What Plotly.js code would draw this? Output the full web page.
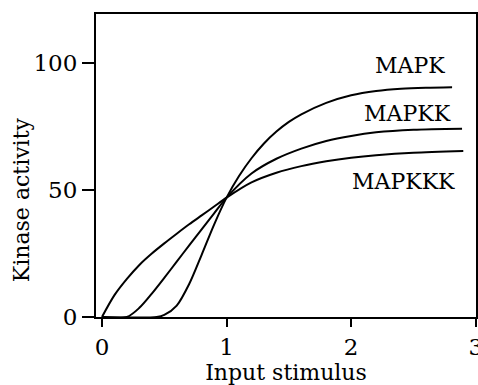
<!DOCTYPE html>
<html>
<head>
<meta charset="utf-8">
<script src="https://cdn.plot.ly/plotly-3.0.1.min.js"></script>
<style>html,body{margin:0;padding:0;background:#fff;}#chart{width:478px;height:385px;}</style>
</head>
<body>
<div id="chart"></div>
<script>
// Values
const mapkkkX = [0, 0.1, 0.2, 0.3, 0.4, 0.5, 0.6, 0.7, 0.8, 0.9, 1.0, 1.2, 1.4, 1.6, 1.8, 2.0, 2.2, 2.5, 2.9];
const mapkkkY = [0, 8.6, 15, 20.5, 25, 29, 32.8, 36.5, 40, 43.5, 47, 53, 56.8, 59.4, 61.3, 62.7, 63.7, 64.7, 65.4];

const mapkkX = [0, 0.2, 0.3, 0.4, 0.5, 0.6, 0.7, 0.8, 0.9, 1.0, 1.2, 1.4, 1.6, 1.8, 2.0, 2.2, 2.5, 2.89];
const mapkkY = [0, 0, 3.6, 9.2, 15.4, 21.8, 28.2, 34.5, 40.8, 47, 56.5, 62.3, 66.3, 69.3, 71.3, 72.7, 73.7, 74.1];

const mapkX = [0, 0.44, 0.5, 0.6, 0.7, 0.8, 0.9, 1.0, 1.1, 1.2, 1.3, 1.4, 1.5, 1.6, 1.8, 2.0, 2.2, 2.4, 2.6, 2.81];
const mapkY = [0, 0, 0.8, 4.5, 13, 24.5, 36.4, 47, 55.5, 62.5, 68.3, 73, 76.8, 79.8, 84.3, 87.3, 89, 89.9, 90.3, 90.5];

const seriesNames = ["MAPK", "MAPKK", "MAPKKK"];
const labelX = [2.47, 2.45, 2.42];
const labelY = [99, 80.3, 53.3];

const xTicks = [0, 1, 2, 3];
const yTicks = [0, 50, 100];

const serif = "DejaVu Serif, Liberation Serif, serif";
const lineStyle = {color: "#000", width: 2, shape: "spline", smoothing: 0.8};

const traces = [
  {x: mapkX, y: mapkY, name: seriesNames[0]},
  {x: mapkkX, y: mapkkY, name: seriesNames[1]},
  {x: mapkkkX, y: mapkkkY, name: seriesNames[2]}
].map(t => Object.assign(t, {type: "scatter", mode: "lines", line: lineStyle, hoverinfo: "skip"}));

const annotations = seriesNames.map((n, i) => ({
  x: labelX[i], y: labelY[i], xref: "x", yref: "y", text: n, showarrow: false,
  font: {family: serif, size: 22, color: "#000"}, xanchor: "center", yanchor: "middle"
}));
// y-axis title placed like the reference (below the plot's vertical centre)
annotations.push({
  x: -0.197, y: 0.386, xref: "paper", yref: "paper", text: "Kinase activity", textangle: -90,
  showarrow: false, xanchor: "center", yanchor: "middle",
  font: {family: serif, size: 22, color: "#000"}
});

const layout = {
  width: 478, height: 385,
  margin: {l: 96, r: 2, t: 14, b: 68},
  paper_bgcolor: "#fff", plot_bgcolor: "#fff",
  showlegend: false,
  font: {family: serif, color: "#000"},
  xaxis: {
    range: [-0.048, 3.002], tickvals: xTicks, ticktext: xTicks.map(String),
    ticklabeloverflow: "allow",
    showgrid: false, zeroline: false, showline: true, mirror: true,
    linecolor: "#000", linewidth: 2, ticks: "outside", ticklen: 8, tickwidth: 2, tickcolor: "#000",
    tickfont: {family: serif, size: 23, color: "#000"},
    title: {text: "Input stimulus", font: {family: serif, size: 22, color: "#000"}, standoff: 4}
  },
  yaxis: {
    range: [0, 119.3], tickvals: yTicks, ticktext: yTicks.map(String),
    showgrid: false, zeroline: false, showline: true, mirror: true,
    linecolor: "#000", linewidth: 2, ticks: "outside", ticklen: 12, tickwidth: 2, tickcolor: "#000",
    tickfont: {family: serif, size: 23, color: "#000"}
  },
  annotations: annotations
};

Plotly.newPlot("chart", traces, layout, {staticPlot: true, displayModeBar: false});
</script>
</body>
</html>
